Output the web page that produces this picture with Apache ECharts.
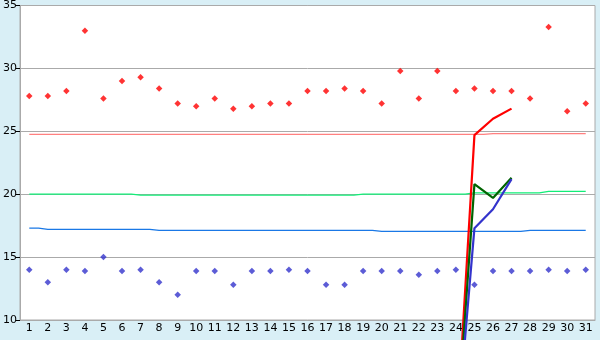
<!DOCTYPE html>
<html><head><meta charset="utf-8">
<script src="https://cdn.jsdelivr.net/npm/echarts@6/dist/echarts.min.js"></script>
<style>html,body{margin:0;padding:0;background:#d9eff6;}#c{width:600px;height:340px;}</style>
</head><body><div id="c"></div>
<script>
var categories = ['1','2','3','4','5','6','7','8','9','10','11','12','13','14','15','16','17','18','19','20','21','22','23','24','25','26','27','28','29','30','31'];
var yTicks = [10, 15, 20, 25, 30, 35];
var highPoints = [27.8,27.8,28.2,33.0,27.6,29.0,29.3,28.4,27.2,27.0,27.6,26.8,27.0,27.2,27.2,28.2,28.2,28.4,28.2,27.2,29.8,27.6,29.8,28.2,28.4,28.2,28.2,27.6,33.3,26.6,27.2];
var lowPoints = [14.0,13.0,14.0,13.9,15.0,13.9,14.0,13.0,12.0,13.9,13.9,12.8,13.9,13.9,14.0,13.9,12.8,12.8,13.9,13.9,13.9,13.6,13.9,14.0,12.8,13.9,13.9,13.9,14.0,13.9,14.0];
var redLevel = [24.75,24.75,24.75,24.75,24.75,24.75,24.75,24.75,24.75,24.75,24.75,24.75,24.75,24.75,24.75,24.75,24.75,24.75,24.75,24.75,24.75,24.75,24.75,24.75,24.75,24.82,24.82,24.82,24.82,24.82,24.82];
var greenLevel = [20.0,20.0,20.0,20.0,20.0,20.0,19.92,19.92,19.92,19.92,19.92,19.92,19.92,19.92,19.92,19.92,19.92,19.92,20.0,20.0,20.0,20.0,20.0,20.0,20.1,20.1,20.1,20.1,20.22,20.22,20.22];
var blueLevel = [17.3,17.2,17.2,17.2,17.2,17.2,17.2,17.12,17.12,17.12,17.12,17.12,17.12,17.12,17.12,17.12,17.12,17.12,17.12,17.05,17.05,17.05,17.05,17.05,17.05,17.05,17.05,17.12,17.12,17.12,17.12];
var redLine = [null,null,null,null,null,null,null,null,null,null,null,null,null,null,null,null,null,null,null,null,null,null,null,0,24.7,26.0,26.8,null,null,null,null];
var greenLine = [null,null,null,null,null,null,null,null,null,null,null,null,null,null,null,null,null,null,null,null,null,null,null,0,20.8,19.7,21.3,null,null,null,null];
var blueLine = [null,null,null,null,null,null,null,null,null,null,null,null,null,null,null,null,null,null,null,null,null,null,null,0,17.3,18.8,21.2,null,null,null,null];

var chart = echarts.init(document.getElementById('c'), null, {renderer:'canvas'});
var font = 'DejaVu Sans';
function stepSeries(data, color){
  return {type:'line', data:data, step:'middle', symbol:'none', silent:true, z:2,
    lineStyle:{color:color, width:1.3}};
}
function thickSeries(data, color){
  return {type:'line', data:data, symbol:'none', clip:false, connectNulls:false, z:4,
    lineStyle:{color:color, width:2.2}};
}
function dots(data, color){
  return {type:'scatter', data:data, symbol:'diamond', symbolSize:6.5, z:3,
    itemStyle:{color:color}};
}
chart.setOption({
  animation:false,
  backgroundColor:'#d9eff6',
  grid:{left:20, right:5, top:5, bottom:20, show:true, backgroundColor:'#ffffff', borderColor:'#aaaaaa', borderWidth:1},
  xAxis:{type:'category', data:categories, boundaryGap:true,
    axisLine:{lineStyle:{color:'#aaaaaa'}},
    axisTick:{alignWithLabel:true, length:4, lineStyle:{color:'#000000'}},
    axisLabel:{color:'#000000', fontFamily:font, fontSize:11, margin:3, interval:0}},
  yAxis:{type:'value', min:yTicks[0], max:yTicks[yTicks.length-1], interval:5,
    axisLine:{show:true, lineStyle:{color:'#aaaaaa'}},
    axisTick:{show:true, length:4, lineStyle:{color:'#000000'}},
    splitLine:{lineStyle:{color:'#aaaaaa', width:1}},
    axisLabel:{color:'#000000', fontFamily:font, fontSize:11, margin:3}},
  series:[
    stepSeries(redLevel, '#ff8080'),
    stepSeries(greenLevel, '#11ee77'),
    stepSeries(blueLevel, '#1a78e6'),
    dots(highPoints, '#ff0000'),
    dots(lowPoints, '#3333cc'),
    thickSeries(redLine, '#ff0000'),
    thickSeries(greenLine, '#006400'),
    thickSeries(blueLine, '#3333cc')
  ]
});
</script></body></html>
